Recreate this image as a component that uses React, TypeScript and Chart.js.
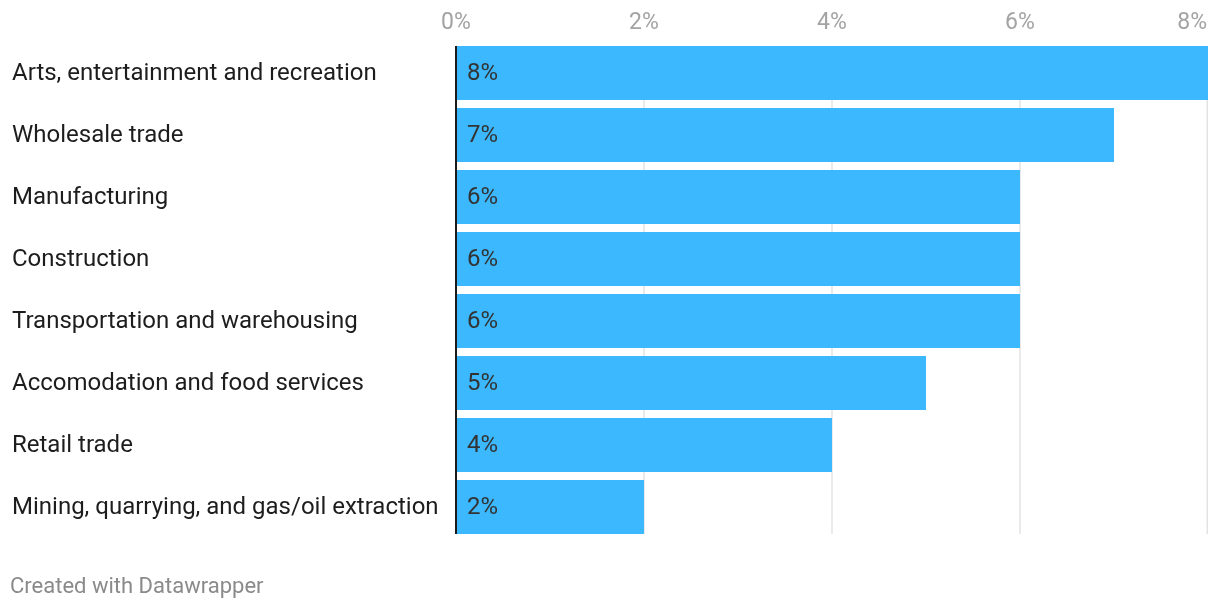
import React, { useEffect, useRef } from "react";
import { Chart, registerables } from "chart.js";

Chart.register(...registerables);

const categories = [
  "Arts, entertainment and recreation",
  "Wholesale trade",
  "Manufacturing",
  "Construction",
  "Transportation and warehousing",
  "Accomodation and food services",
  "Retail trade",
  "Mining, quarrying, and gas/oil extraction",
];
const values = [8, 7, 6, 6, 6, 5, 4, 2];
const tickValues = [0, 2, 4, 6, 8];
const footerText = "Created with Datawrapper";

const FONT = "Roboto, 'Noto Sans', sans-serif";

function barExtent(chart: any) {
  const meta = chart.getDatasetMeta(0);
  const first = meta.data[0];
  const last = meta.data[meta.data.length - 1];
  return { top: first.y - first.height / 2, bottom: last.y + last.height / 2 };
}

const overlayPlugin = {
  id: "overlay",
  beforeDatasetsDraw(chart: any) {
    const ctx = chart.ctx;
    const xScale = chart.scales.x;
    const { top, bottom } = barExtent(chart);
    ctx.save();
    ctx.strokeStyle = "#e3e3e3";
    ctx.lineWidth = 1.5;
    tickValues.forEach((v) => {
      if (v === 0) return;
      const px = Math.min(xScale.getPixelForValue(v), chart.chartArea.right - 0.75);
      ctx.beginPath();
      ctx.moveTo(px, top);
      ctx.lineTo(px, bottom);
      ctx.stroke();
    });
    ctx.restore();
  },
  afterDatasetsDraw(chart: any) {
    const ctx = chart.ctx;
    const xScale = chart.scales.x;
    const meta = chart.getDatasetMeta(0);
    const { top, bottom } = barExtent(chart);
    ctx.save();
    // zero axis line
    ctx.strokeStyle = "#1a1a1a";
    ctx.lineWidth = 2;
    const x0 = xScale.getPixelForValue(0);
    ctx.beginPath();
    ctx.moveTo(x0, top);
    ctx.lineTo(x0, bottom);
    ctx.stroke();
    // value labels inside bars
    ctx.font = `24px ${FONT}`;
    ctx.fillStyle = "#333333";
    ctx.textAlign = "left";
    ctx.textBaseline = "middle";
    meta.data.forEach((bar: any, i: number) => {
      ctx.fillText(`${values[i]}%`, x0 + 11, bar.y + 1);
    });
    // top tick labels
    ctx.font = `23px ${FONT}`;
    ctx.fillStyle = "#a3a3a3";
    tickValues.forEach((v, i) => {
      const px = xScale.getPixelForValue(v);
      const isLast = i === tickValues.length - 1;
      ctx.textAlign = isLast ? "right" : "center";
      ctx.fillText(`${v}%`, isLast ? px - 1 : px, 23);
    });
    // footer
    ctx.font = `22px ${FONT}`;
    ctx.fillStyle = "#8a8a8a";
    ctx.textAlign = "left";
    ctx.fillText(footerText, 10, 587);
    ctx.restore();
  },
};

export default function App() {
  const ref = useRef<HTMLCanvasElement | null>(null);
  useEffect(() => {
    document.body.style.margin = "0";
    const chart = new Chart(ref.current as HTMLCanvasElement, {
      type: "bar",
      data: {
        labels: categories,
        datasets: [
          {
            data: values,
            backgroundColor: "#3bb8fe",
            barPercentage: 54 / 62,
            categoryPercentage: 1,
          },
        ],
      },
      options: {
        indexAxis: "y",
        animation: false,
        responsive: true,
        maintainAspectRatio: false,
        layout: { padding: { left: 12, right: 12, top: 42, bottom: 72 } },
        plugins: { legend: { display: false }, tooltip: { enabled: false } },
        scales: {
          x: {
            position: "top",
            min: 0,
            max: 8,
            ticks: { display: false, stepSize: 2 },
            border: { display: false },
            grid: { display: false, drawTicks: false },
          },
          y: {
            afterFit(scale: any) {
              scale.width = 444;
            },
            ticks: {
              crossAlign: "far",
              padding: 0,
              labelOffset: 1,
              color: "#1d1d1d",
              font: { family: FONT, size: 24 },
            },
            grid: { display: false, drawTicks: false },
            border: { display: false },
          },
        },
      },
      plugins: [overlayPlugin],
    });
    return () => chart.destroy();
  }, []);
  return (
    <div style={{ position: "absolute", left: 0, top: 0, width: 1220, height: 610 }}>
      <canvas ref={ref} />
    </div>
  );
}
